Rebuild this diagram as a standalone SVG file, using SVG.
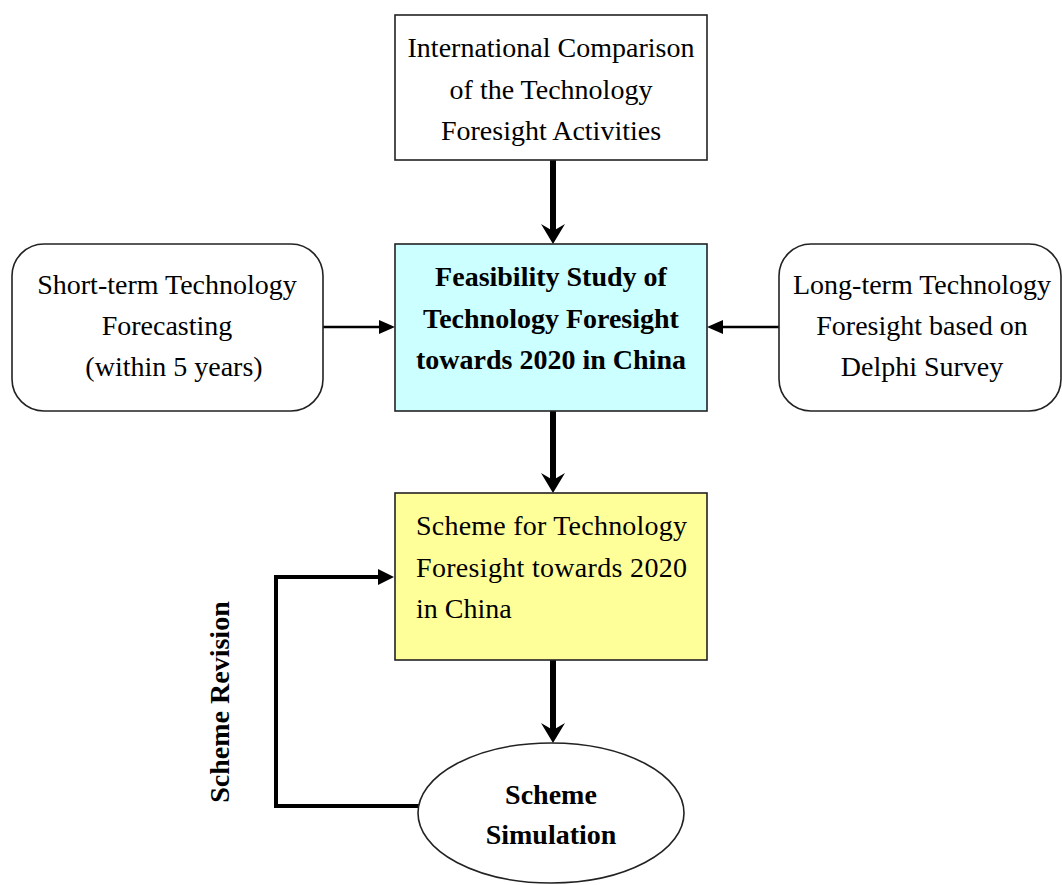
<svg xmlns="http://www.w3.org/2000/svg" width="1062" height="885" viewBox="0 0 1062 885">
<style>
.box{stroke:#222;stroke-width:1.6}
.t{font-family:"Liberation Serif","Times New Roman",serif;font-size:28px;fill:#000}
.c{text-anchor:middle}
.b{font-weight:bold}
.thick{stroke:#000;stroke-width:6;fill:none}
.thin{stroke:#000;stroke-width:2.5;fill:none}
.fb{stroke:#000;stroke-width:4;fill:none}
</style>
<defs>
<marker id="stealth" markerUnits="userSpaceOnUse" markerWidth="22" markerHeight="24" viewBox="0 0 22 24" refX="10" refY="12" orient="auto">
<path d="M0,0 L20,12 L0,24 L7,12 Z" fill="#000"/>
</marker>
<marker id="tri" markerUnits="userSpaceOnUse" markerWidth="16" markerHeight="14" viewBox="0 0 16 14" refX="5" refY="7" orient="auto">
<path d="M0,0 L16,7 L0,14 Z" fill="#000"/>
</marker>
<marker id="tri2" markerUnits="userSpaceOnUse" markerWidth="16" markerHeight="16" viewBox="0 0 16 16" refX="5" refY="8" orient="auto">
<path d="M0,0 L16,8 L0,16 Z" fill="#000"/>
</marker>
</defs>
<rect width="1062" height="885" fill="#fff"/>
<g id="connectors">
<line class="thick" x1="553" y1="160" x2="553" y2="234" marker-end="url(#stealth)"/>
<line class="thick" x1="553" y1="411" x2="553" y2="483" marker-end="url(#stealth)"/>
<line class="thick" x1="553" y1="660" x2="553" y2="733" marker-end="url(#stealth)"/>
<line class="thin" x1="323" y1="327" x2="384" y2="327" marker-end="url(#tri)"/>
<line class="thin" x1="779" y1="327" x2="718" y2="327" marker-end="url(#tri)"/>
<path class="fb" d="M419,806 L276,806 L276,577 L383,577" marker-end="url(#tri2)"/>
<text class="t b c" transform="translate(229,702) rotate(-90)">Scheme Revision</text>
</g>
<g id="intl">
<rect class="box" x="395" y="15" width="312" height="145" fill="#fff"/>
<text class="t c" x="551" y="57">International Comparison</text>
<text class="t c" x="551" y="99">of the Technology</text>
<text class="t c" x="551" y="140">Foresight Activities</text>
</g>
<g id="feasibility">
<rect class="box" x="395" y="244" width="312" height="167" fill="#CCFFFF"/>
<text class="t b c" x="551" y="286">Feasibility Study of</text>
<text class="t b c" x="551" y="328">Technology Foresight</text>
<text class="t b c" x="551" y="369">towards 2020 in China</text>
</g>
<g id="shortterm">
<rect class="box" x="12" y="244" width="311" height="167" rx="32" ry="32" fill="#fff"/>
<text class="t c" x="167" y="294">Short-term Technology</text>
<text class="t c" x="167" y="335">Forecasting</text>
<text class="t c" x="174" y="376">(within 5 years)</text>
</g>
<g id="longterm">
<rect class="box" x="779" y="244" width="282" height="167" rx="32" ry="32" fill="#fff"/>
<text class="t c" x="922" y="294">Long-term Technology</text>
<text class="t c" x="922" y="335">Foresight based on</text>
<text class="t c" x="922" y="376">Delphi Survey</text>
</g>
<g id="scheme">
<rect class="box" x="395" y="493" width="312" height="167" fill="#FFFF99"/>
<text class="t" x="416" y="535" textLength="271" lengthAdjust="spacing">Scheme for Technology</text>
<text class="t" x="416" y="577" textLength="271" lengthAdjust="spacing">Foresight towards 2020</text>
<text class="t" x="416" y="618">in China</text>
</g>
<g id="simulation">
<ellipse class="box" cx="551" cy="813" rx="133" ry="70" fill="#fff"/>
<text class="t b c" x="551" y="804">Scheme</text>
<text class="t b c" x="551" y="844">Simulation</text>
</g>
</svg>
